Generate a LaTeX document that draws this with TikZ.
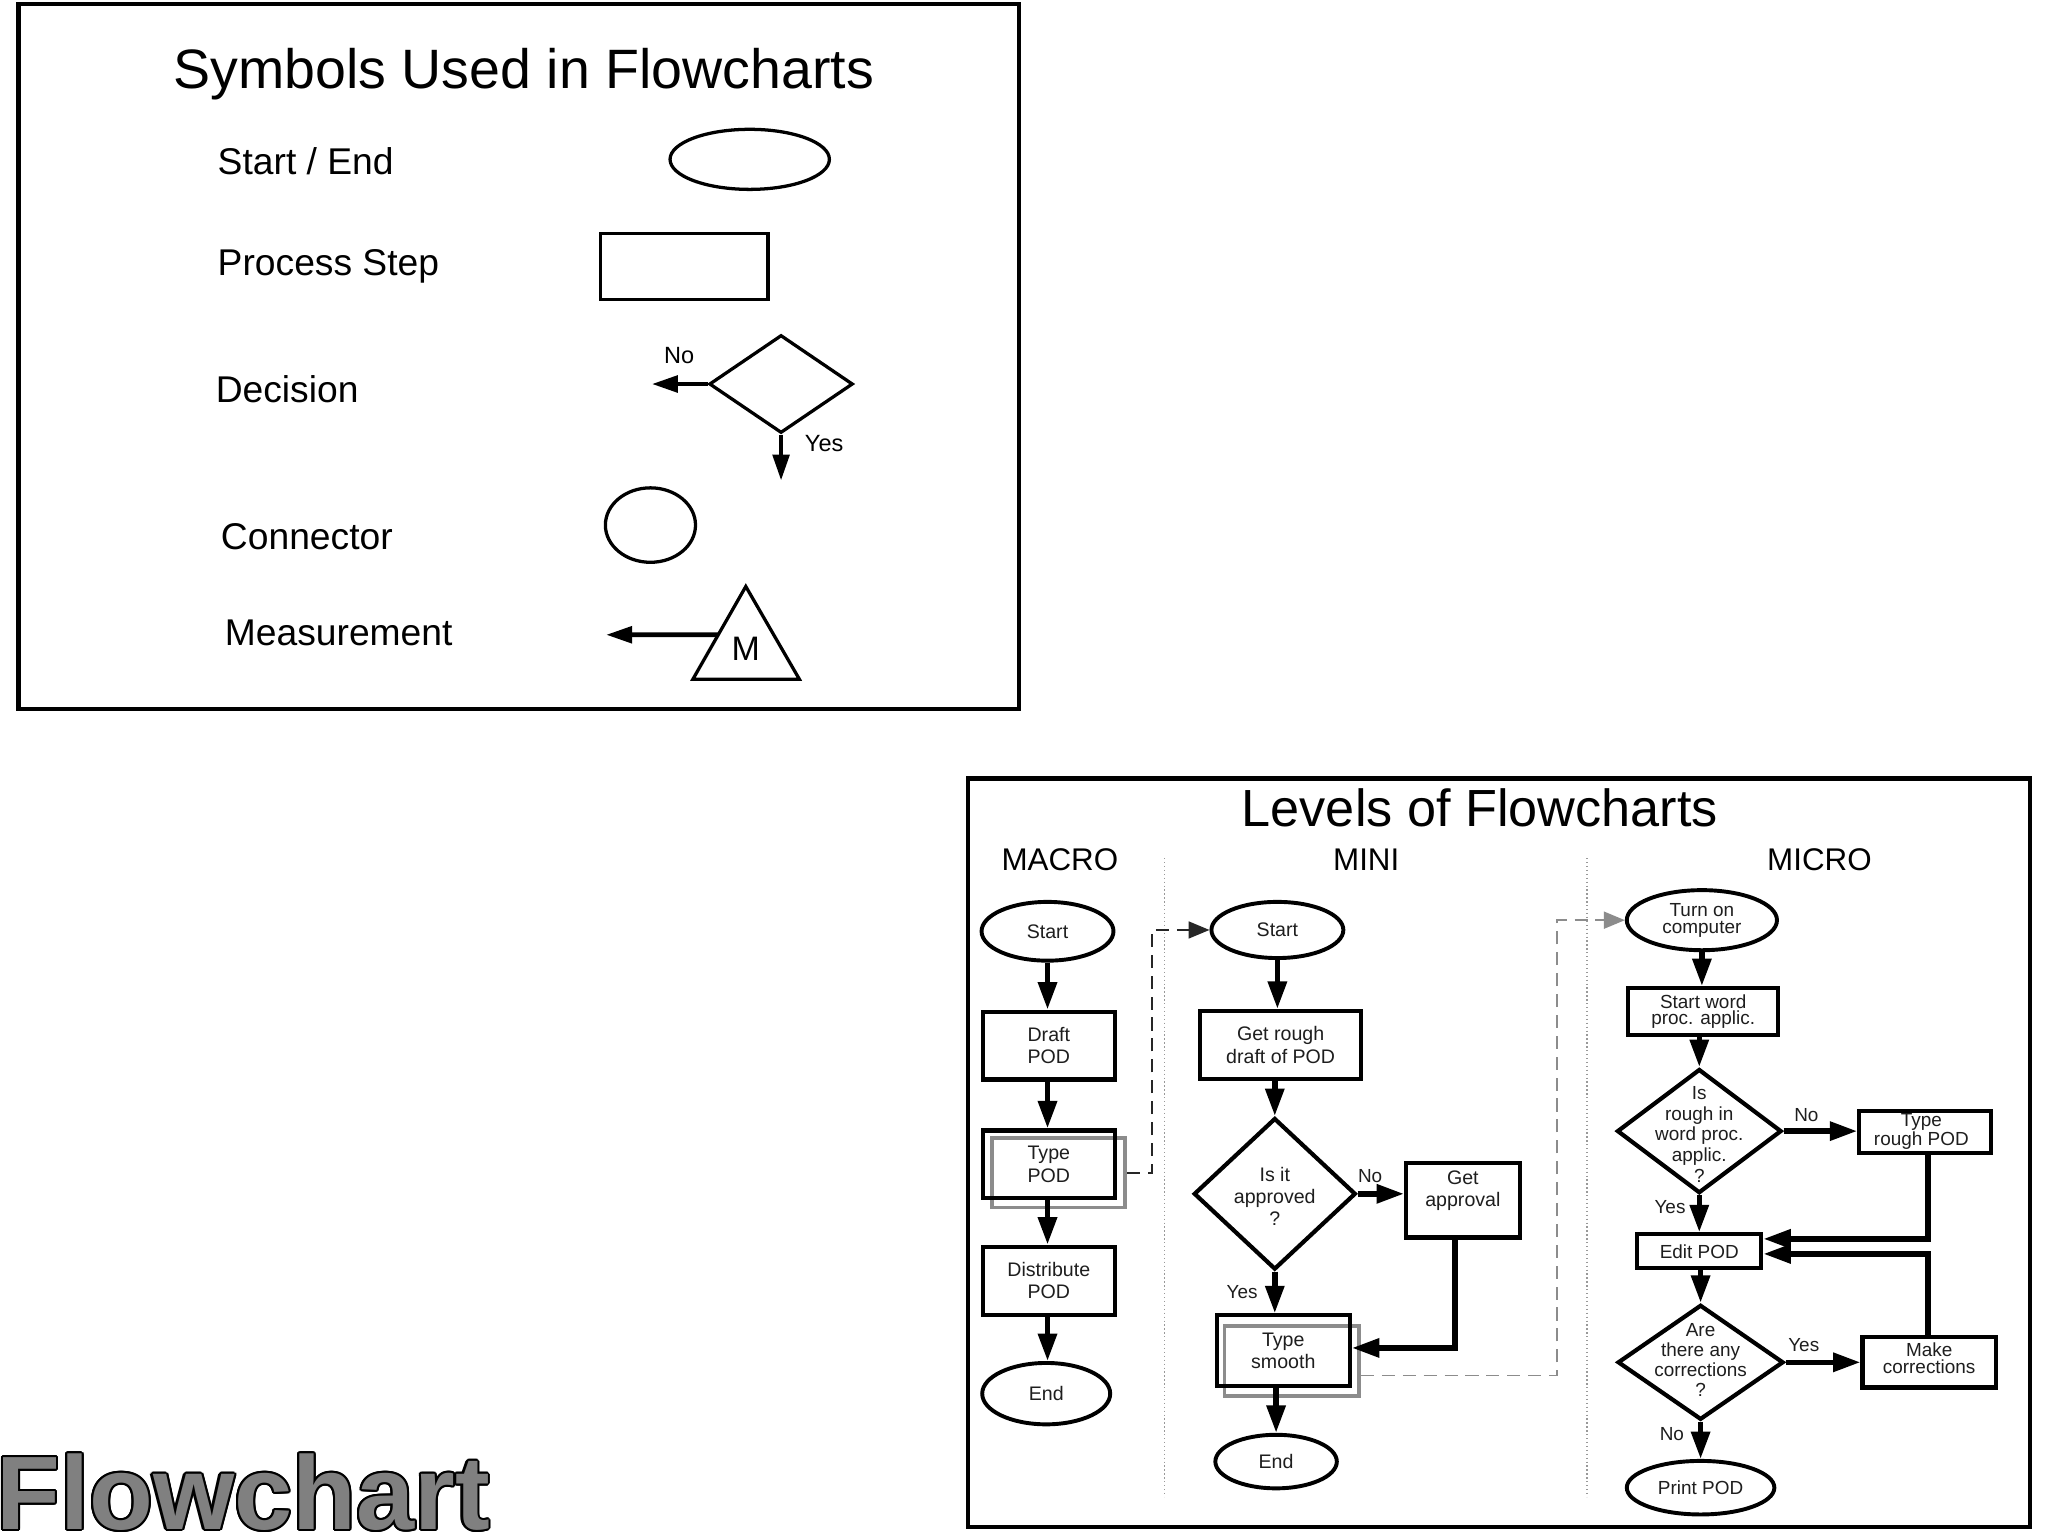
\documentclass[tikz,border=0pt]{standalone}
\usepackage{fontspec}
\setmainfont{Liberation Sans}
\usetikzlibrary{arrows.meta,shapes.geometric,calc}
\newcommand\fsz[2]{\fontsize{#1}{#2}\selectfont}
\definecolor{txtgray}{HTML}{1E1E1E}
\definecolor{shadowgray}{HTML}{8C8C8C}
\definecolor{bigfill}{HTML}{808080}
\newcommand\outlinedword[1]{%
  \foreach \dx/\dy in {1.6/0,1.48/0.61,1.13/1.13,0.61/1.48,0/1.6,-0.61/1.48,-1.13/1.13,-1.48/0.61,-1.6/0,-1.48/-0.61,-1.13/-1.13,-0.61/-1.48,0/-1.6,0.61/-1.48,1.13/-1.13,1.48/-0.61}%
    {\rlap{\kern\dx pt\raisebox{\dy pt}{\color{black}#1}}}%
  {\color{bigfill}#1}}
\begin{document}
\begin{tikzpicture}[x=1pt,y=-1pt,
  panel/.style={draw=black,line width=3.4pt},
  symb/.style={draw=black,line width=2.5pt,inner sep=0pt},
  tarr/.style={line width=3.6pt,-{Triangle[length=20pt,width=12.5pt]}},
  lbl/.style={font=\fsz{28.5}{34},anchor=base west,inner sep=0pt},
  yn/.style={font=\fsz{18}{20},anchor=base,inner sep=0pt},
  ynb/.style={font=\fsz{14.5}{16},anchor=base,inner sep=0pt,text=txtgray},
  hdr/.style={font=\fsz{24}{28},anchor=base,inner sep=0pt},
  term/.style={shape=ellipse,draw=black,line width=3pt,inner sep=0pt,align=center,text=txtgray},
  proc/.style={shape=rectangle,draw=black,line width=3.2pt,inner sep=0pt,align=center,text=txtgray},
  dec/.style={shape=diamond,draw=black,line width=3.2pt,inner sep=0pt},
  dtxt/.style={inner sep=0pt,align=center,text=txtgray},
  shadowbox/.style={shape=rectangle,draw=shadowgray,line width=3pt,inner sep=0pt},
  flow/.style={line width=4.2pt,-{Triangle[length=21pt,width=14pt]}},
  link/.style={line width=1.3pt,dash pattern=on 10pt off 6pt,-{Triangle[length=16pt,width=13pt]}},
  sep/.style={draw=black!40,line width=1pt,dotted},
]
\useasboundingbox (0,0) rectangle (1568,1176);
\fill[white] (0,0) rectangle (1568,1176);

% ---------------- top panel ----------------
\draw[panel] (14,3) rectangle (780,543);
\node[font=\fsz{42.5}{50},anchor=base,inner sep=0pt] (t1) at (401,68) {Symbols Used in Flowcharts};

\node[lbl] (l1) at (166.5,133.5) {Start / End};
\node[lbl] (l2) at (166.5,211) {Process Step};
\node[lbl] (l3) at (165,308) {Decision};
\node[lbl] (l4) at (169,420.5) {Connector};
\node[lbl] (l5) at (172,494) {Measurement};

\node[symb,ellipse,minimum width=122pt,minimum height=46pt] (se) at (574,122) {};
\node[symb,rectangle,minimum width=128pt,minimum height=51pt] (ps) at (524,204) {};
\node[symb,diamond,minimum width=110pt,minimum height=75pt] (dd) at (598,294) {};
\coordinate (dno) at (499,294);
\coordinate (dyes) at (598,368);
\draw[tarr] (dd.west) -- (dno);
\draw[tarr] (dd.south) -- (dyes);
\node[yn] (tno) at (520,278.5) {No};
\node[yn] (tyes) at (631,345.5) {Yes};

\node[symb,ellipse,minimum width=69pt,minimum height=57pt] (cn) at (498,402) {};

\coordinate (ta) at (571,449);
\coordinate (tl) at (530.5,520);
\coordinate (tr) at (612,520);
\draw[symb,line join=miter] (ta) -- (tl) -- (tr) -- cycle;
\node[font=\fsz{26}{30},anchor=base,inner sep=0pt] (tm) at (571,506) {M};
\coordinate (tmeas) at ($(ta)!0.52!(tl)$);
\coordinate (tmend) at (464,486);
\draw[tarr] (tmeas) -- (tmend);

% ---------------- Flowchart word ----------------
\node[anchor=base west,inner sep=0pt,font=\bfseries\fsz{80}{90}] (fc) at (-3,1171) {\outlinedword{Flowchart}};

% ---------------- bottom panel ----------------
\draw[panel] (741,596) rectangle (1554,1169);
\node[font=\fsz{40}{46},anchor=base,inner sep=0pt] (t2) at (1133,633) {Levels of Flowcharts};
\node[hdr] (h1) at (811.5,666.5) {MACRO};
\node[hdr] (h2) at (1046,666.5) {MINI};
\node[hdr] (h3) at (1393,666.5) {MICRO};
\coordinate (s1a) at (891.5,657); \coordinate (s1b) at (891.5,1146);
\coordinate (s2a) at (1215,657); \coordinate (s2b) at (1215,1146);
\draw[sep] (s1a) -- (s1b);
\draw[sep] (s2a) -- (s2b);

% MACRO
\node[term,minimum width=101pt,minimum height=45pt,font=\fsz{15}{17}] (ms) at (802,713) {Start};
\node[proc,minimum width=101pt,minimum height=52pt,font=\fsz{15}{17}] (md) at (803,800.5) {Draft\\POD};
\node[shadowbox,minimum width=102pt,minimum height=53pt] (mts) at (810.5,898) {};
\node[proc,minimum width=101pt,minimum height=52pt,font=\fsz{15}{17}] (mt) at (803,891.5) {Type\\POD};
\node[proc,minimum width=101pt,minimum height=52pt,font=\fsz{15}{17}] (mdi) at (803,980.5) {Distribute\\POD};
\node[term,minimum width=98pt,minimum height=47pt,font=\fsz{15}{17}] (me) at (801,1067) {End};
\draw[flow] (ms.south) -- (ms.south |- md.north);
\draw[flow] (ms.south |- md.south) -- (ms.south |- mt.north);
\draw[flow] (ms.south |- mt.south) -- (ms.south |- mdi.north);
\draw[flow] (ms.south |- mdi.south) -- (ms.south |- me.north);

% MINI
\node[term,minimum width=101pt,minimum height=43pt,font=\fsz{15}{17}] (ns) at (978,712) {Start};
\node[proc,minimum width=123pt,minimum height=52pt,font=\fsz{15}{17}] (ng) at (980.5,800) {Get rough\\draft of POD};
\node[dec,minimum width=124pt,minimum height=116pt] (nd) at (976,914) {};
\node[dtxt,font=\fsz{15}{17}] (ndt) at (976,916) {Is it\\approved\\?};
\node[proc,minimum width=87pt,minimum height=57pt] (na) at (1120,919) {};
\node[dtxt,font=\fsz{15}{17}] (nat) at (1120,911.5) {Get\\approval};
\node[shadowbox,minimum width=103pt,minimum height=53pt] (nty) at (989,1042) {};
\node[proc,minimum width=102pt,minimum height=54pt,font=\fsz{15}{17}] (nt) at (982.5,1034) {Type\\smooth};
\node[term,minimum width=93pt,minimum height=41pt,font=\fsz{15}{17}] (ne) at (977,1119) {End};
\draw[flow] (ns.south) -- (ns.south |- ng.north);
\draw[flow] (nd.north |- ng.south) -- (nd.north);
\draw[flow] (nd.east) -- (nd.east -| na.west);
\draw[flow] (nd.south) -- (nd.south |- nt.north);
\draw[flow] ($(na.south)+(-6,0)$) |- ($(nt.east)+(0,-2)$);
\draw[flow] (ne.north |- nt.south) -- (ne.north);
\node[ynb] (nno) at (1049,905) {No};
\node[ynb] (nyes) at (951,994) {Yes};

% links between levels
\draw[link,draw=black!85] (mts.east) -- ++(19,0) |- (ns.west);

% MICRO
\node[term,minimum width=115pt,minimum height=46pt,font=\fsz{14.5}{13}] (ct) at (1303,704.5) {Turn on\\computer};
\node[proc,minimum width=115pt,minimum height=36pt,font=\fsz{14.5}{13}] (cs) at (1304,774.5) {Start word\\proc. applic.};
\node[dec,minimum width=126pt,minimum height=95pt] (cd) at (1301,866) {};
\node[dtxt,font=\fsz{14.5}{16}] (cdt) at (1301,868.5) {Is\\rough in\\word proc.\\applic.\\?};
\node[proc,minimum width=101pt,minimum height=32pt] (cr) at (1474,866.5) {};
\node[dtxt,font=\fsz{14.5}{13}] (crt) at (1471,866) {Type\\rough POD};
\node[proc,minimum width=95pt,minimum height=26pt,font=\fsz{14.5}{16}] (ce) at (1301,958) {Edit POD};
\node[dec,minimum width=127pt,minimum height=88pt] (cq) at (1302,1043) {};
\node[dtxt,font=\fsz{14.5}{15.3}] (cqt) at (1302,1041) {Are\\there any\\corrections\\?};
\node[proc,minimum width=102pt,minimum height=38.5pt] (cm) at (1477,1043) {};
\node[dtxt,font=\fsz{14.5}{12.5}] (cmt) at (1477,1040) {Make\\corrections};
\node[term,minimum width=113pt,minimum height=41pt,font=\fsz{14.5}{16}] (cp) at (1302,1139) {Print POD};
\draw[flow] (ct.south) -- (ct.south |- cs.north);
\draw[flow] (cd.north |- cs.south) -- (cd.north);
\draw[flow] (cd.east) -- (cd.east -| cr.west);
\draw[flow] (cd.south) -- (cd.south |- ce.north);
\draw[flow] ($(cr.south)+(2,0)$) |- ($(ce.east)+(0,-9.5)$);
\draw[flow] ($(cm.north)+(-1,0)$) |- ($(ce.east)+(0,2)$);
\draw[flow] (cq.north |- ce.south) -- (cq.north);
\draw[flow] (cq.east) -- (cq.east -| cm.west);
\draw[flow] (cq.south) -- (cq.south |- cp.north);
\node[ynb] (cno1) at (1383,859) {No};
\node[ynb] (cyes1) at (1278.6,929) {Yes};
\node[ynb] (cyes2) at (1381,1035) {Yes};
\node[ynb] (cno2) at (1280,1102.5) {No};

\draw[link,draw=black!45] ($(nty.east)+(0,11)$) -- ++(150,0) |- (ct.west);
\end{tikzpicture}
\end{document}
